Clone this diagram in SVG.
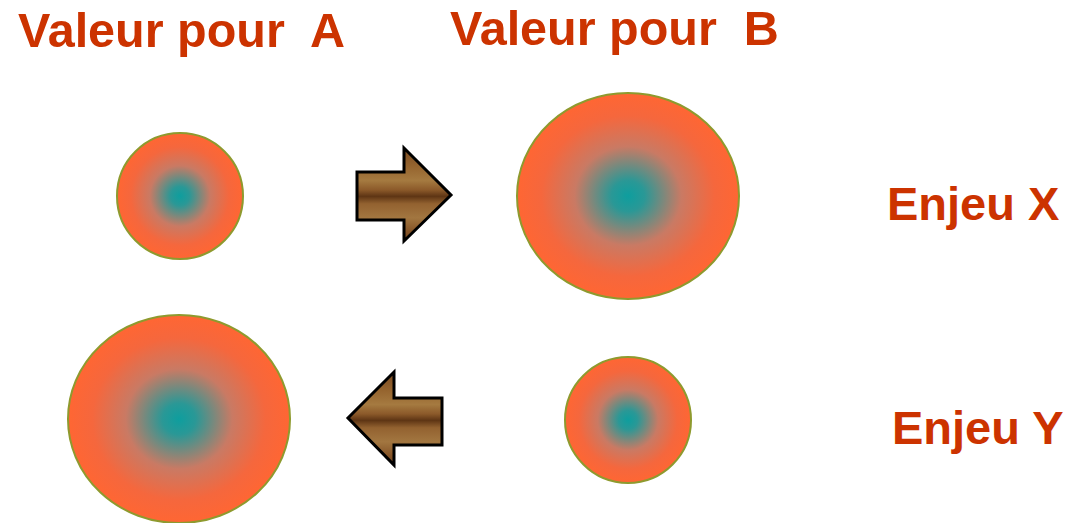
<svg xmlns="http://www.w3.org/2000/svg" width="1070" height="523" viewBox="0 0 1070 523">
<style>
.lbl{font-family:"Liberation Sans",Arial,sans-serif;font-weight:bold;font-size:47px;fill:#CC3300}
.hdr{font-size:48.5px}
.ball{fill:url(#rg);stroke:#8E9A2E;stroke-width:2}
.arrow{fill:url(#wood);stroke:#000;stroke-width:3;stroke-linejoin:miter}
</style>
<defs>
<radialGradient id="rg" cx="0.5" cy="0.5" r="0.5">
<stop offset="0" stop-color="#0E9E9E"/>
<stop offset="0.15" stop-color="#2A9896"/>
<stop offset="0.48" stop-color="#C97A64"/>
<stop offset="0.78" stop-color="#F5673D"/>
<stop offset="1" stop-color="#FF6633"/>
</radialGradient>
<linearGradient id="wood" x1="0" y1="0" x2="0" y2="1">
<stop offset="0" stop-color="#7A4A22"/>
<stop offset="0.2" stop-color="#96652F"/>
<stop offset="0.35" stop-color="#A57A40"/>
<stop offset="0.45" stop-color="#8C5A2A"/>
<stop offset="0.52" stop-color="#5E3514"/>
<stop offset="0.6" stop-color="#936230"/>
<stop offset="0.75" stop-color="#A27640"/>
<stop offset="0.9" stop-color="#855427"/>
<stop offset="1" stop-color="#70441E"/>
</linearGradient>
</defs>
<g id="title-a"><text class="lbl hdr" x="18" y="47" xml:space="preserve">Valeur pour  A</text></g>
<g id="title-b"><text class="lbl hdr" x="450" y="45" xml:space="preserve">Valeur pour  B</text></g>
<g id="enjeu-x"><text class="lbl" x="887" y="220">Enjeu X</text></g>
<g id="enjeu-y"><text class="lbl" x="892" y="444">Enjeu Y</text></g>
<g id="a-x"><ellipse class="ball" cx="180" cy="196" rx="63" ry="63"/></g>
<g id="b-x"><ellipse class="ball" cx="628" cy="196" rx="111" ry="103"/></g>
<g id="a-y"><ellipse class="ball" cx="179" cy="419" rx="111" ry="104"/></g>
<g id="b-y"><ellipse class="ball" cx="628" cy="420" rx="63" ry="63"/></g>
<g id="connectors">
<polygon class="arrow" points="357,172 404,172 404,148 451,195 404,241 404,220 357,220"/>
<polygon class="arrow" points="442,398 394,398 394,372 348,418 394,465 394,445 442,445"/>
</g>
</svg>
